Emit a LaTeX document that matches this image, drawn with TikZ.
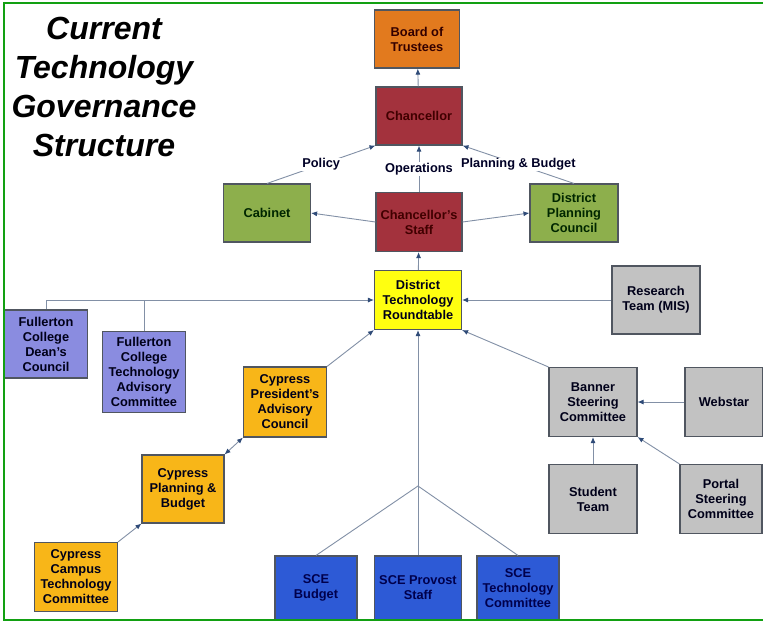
\documentclass[tikz,border=0pt]{standalone}
\usepackage{fontspec}
\setmainfont{Liberation Sans}
\usetikzlibrary{arrows.meta}
\definecolor{boxline}{HTML}{505660}
\definecolor{linkgray}{HTML}{8290A6}
\definecolor{tipblue}{HTML}{2F4B78}
\definecolor{boardorange}{HTML}{E27A1E}
\definecolor{chanred}{HTML}{A3323D}
\definecolor{cabgreen}{HTML}{8DAF4C}
\definecolor{dtryellow}{HTML}{FFFF10}
\definecolor{teamgray}{HTML}{C2C2C2}
\definecolor{fullpurple}{HTML}{8A8CE0}
\definecolor{cypgold}{HTML}{F8B618}
\definecolor{sceblue}{HTML}{2D5AD6}
\definecolor{framegreen}{HTML}{12A012}
\tikzset{
unit/.style={ % Sets the properties for each box
draw=boxline,
line width=1.1pt,
align=center,
inner sep=1pt,
text=black!90!blue,
font=\bfseries\fontsize{12.8}{15}\selectfont},
board/.style={unit, fill=boardorange, text=black!80!red},
chan/.style={unit, fill=chanred, text=black!75!red},
cab/.style={unit, fill=cabgreen, text=black!85!green},
dtr/.style={unit, fill=dtryellow},
team/.style={unit, fill=teamgray},
full/.style={unit, fill=fullpurple},
cyp/.style={unit, fill=cypgold},
sce/.style={unit, fill=sceblue, text=black!70!blue},
tag/.style={ % Labels that sit on a link
fill=white,
inner sep=1pt,
text=black!85!blue,
font=\bfseries\fontsize{12.8}{15}\selectfont},
every edge/.style={ % Sets the properties for each link
draw=linkgray,
line width=0.9pt,
-{Latex[length=6pt,width=5pt,color=tipblue]}},
plain/.style={draw=linkgray, line width=0.9pt}}

\begin{document}
\begin{tikzpicture}[x=1pt,y=-1pt]
\useasboundingbox (0,0) rectangle (763,622);
\clip (0,0) rectangle (763,622);
\fill[white] (0,0) rectangle (763,622);
% title
\node[align=center, font=\bfseries\itshape\fontsize{32}{39}\selectfont] (title) at (104,87)
{Current\\Technology\\Governance\\Structure};
% district level
\node[board, minimum width=85, minimum height=58] (bot) at (417,39) {Board of\\Trustees};
\node[chan, minimum width=86, minimum height=58] (chan) at (419,116) {Chancellor};
\node[cab, minimum width=87, minimum height=58] (cab) at (267,213) {Cabinet};
\node[chan, minimum width=86, minimum height=59] (staff) at (419,222) {Chancellor's\\Staff};
\node[cab, minimum width=88, minimum height=58] (dpc) at (574,213) {District\\Planning\\Council};
\node[dtr, minimum width=87, minimum height=59] (dtr) at (418,300) {District\\Technology\\Roundtable};
\node[team, minimum width=88, minimum height=68] (rt) at (656,300) {Research\\Team (MIS)};
% Fullerton
\node[full, minimum width=83, minimum height=68] (fdc) at (46,344) {Fullerton\\College\\Dean's\\Council};
\node[full, minimum width=83, minimum height=81] (ftac) at (144,372) {Fullerton\\College\\Technology\\Advisory\\Committee};
% Cypress
\node[cyp, minimum width=83, minimum height=70] (cpac) at (285,402) {Cypress\\President's\\Advisory\\Council};
\node[cyp, minimum width=82, minimum height=68] (cpb) at (183,489) {Cypress\\Planning \&\\Budget};
\node[cyp, minimum width=83, minimum height=69] (cctc) at (76,577) {Cypress\\Campus\\Technology\\Committee};
% Banner group
\node[team, minimum width=88, minimum height=69] (bsc) at (593,402) {Banner\\Steering\\Committee};
\node[team, minimum width=78, minimum height=69] (web) at (724,402) {Webstar};
\node[team, minimum width=88, minimum height=69] (st) at (593,499) {Student\\Team};
\node[team, minimum width=82, minimum height=69] (psc) at (721,499) {Portal\\Steering\\Committee};
% SCE
\node[sce, minimum width=82, minimum height=64] (sceb) at (316,588) {SCE\\Budget};
\node[sce, minimum width=87, minimum height=64] (scep) at (418,588) {SCE Provost\\Staff};
\node[sce, minimum width=82, minimum height=64] (scet) at (518,588) {SCE\\Technology\\Committee};
\coordinate (sce) at (418,486);

\draw (chan) edge (bot);
\draw (staff) edge node[tag]{Operations} (chan);
\draw (cab.north) edge node[tag]{Policy} (chan.south west);
\draw (dpc.north) edge node[tag]{Planning \& Budget} (chan.south east);
\draw (staff.west) edge (cab.east);
\draw (staff.east) edge (dpc.west);
\draw (dtr) edge (staff);
\draw (rt) edge (dtr);
\draw[plain] (ftac.north) -- (ftac.north |- dtr.west);
\draw (fdc.north) edge[to path={|- (\tikztotarget)}] (dtr.west);
\draw (cpac.north east) edge (dtr.south west);
\draw (cpb.north east) edge[{Latex[length=6pt,width=5pt,color=tipblue]}-{Latex[length=6pt,width=5pt,color=tipblue]}] (cpac.south west);
\draw (cctc.north east) edge (cpb.south west);
\draw (sce) edge (dtr);
\draw[plain] (sceb.north) -- (sce) -- (scet.north);
\draw[plain] (sce) -- (scep.north);
\draw (bsc.north west) edge (dtr.south east);
\draw (web) edge (bsc);
\draw (st) edge (bsc);
\draw (psc.north west) edge (bsc.south east);
% frame
\draw[framegreen, line width=2.5pt] (770,3) -- (4,3) -- (4,620) -- (770,620);
\end{tikzpicture}
\end{document}
